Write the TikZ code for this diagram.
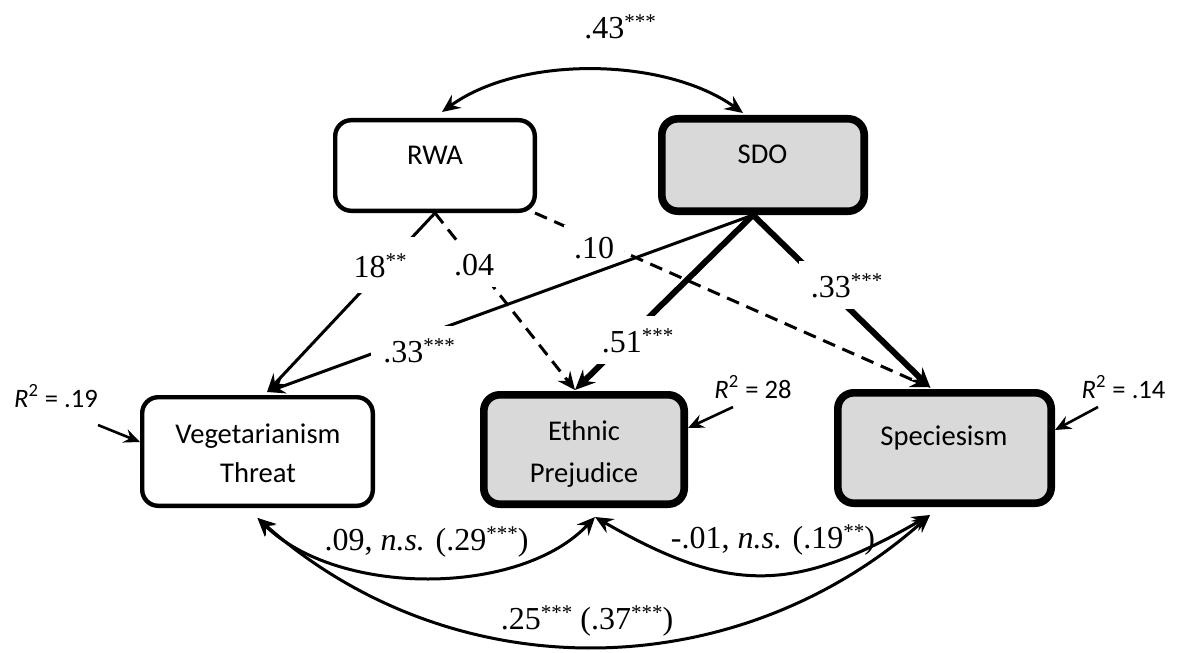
\documentclass[tikz,border=0pt]{standalone}
\usepackage{fontspec}
\setmainfont{Liberation Serif}
\newfontfamily\calibri{Carlito}
\usetikzlibrary{arrows.meta}
\definecolor{boxgray}{HTML}{D9D9D9}
\newcommand\sig[1]{\raisebox{5pt}{\fontsize{10.5pt}{11pt}\selectfont #1}}
\begin{document}
\begin{tikzpicture}[x=0.5pt,y=-0.5pt,
  thinbox/.style={draw, line width=2.2pt, rounded corners=8pt, fill=white, inner sep=0pt},
  thickbox/.style={draw, line width=3.8pt, rounded corners=8pt, fill=boxgray, inner sep=0pt},
  boxtext/.style={font=\calibri\fontsize{14.3pt}{19pt}\selectfont, inner sep=0pt, anchor=base},
  thinline/.style={line width=1.5pt, -{Stealth[length=9pt,width=8pt,inset=3.2pt]}},
  thickline/.style={line width=3pt, -{Stealth[length=10pt,width=9pt,inset=3.5pt]}},
  dashline/.style={line width=1.5pt, dash pattern=on 6.5pt off 4pt, -{Stealth[length=9pt,width=8pt,inset=3.2pt]}},
  corr/.style={line width=1.5pt, {Stealth[length=9pt,width=8pt,inset=3.2pt]}-{Stealth[length=9pt,width=8pt,inset=3.2pt]}},
  resid/.style={line width=1.3pt, -{Stealth[length=8pt,width=7pt,inset=2.8pt]}},
  coef/.style={font=\fontsize{16pt}{19pt}\selectfont, fill=white, inner sep=6pt, anchor=base},
  coefb/.style={font=\fontsize{16pt}{19pt}\selectfont, inner sep=0pt, anchor=base},
  rsq/.style={font=\calibri\fontsize{13.3pt}{15pt}\selectfont, inner sep=0pt, anchor=base}]
\useasboundingbox (0,0) rectangle (1181,652);

% boxes
\node[thinbox, minimum width=99.8pt, minimum height=45.3pt] (rwa) at (435,165.5) {};
\node[thickbox, minimum width=101.2pt, minimum height=46.2pt] (sdo) at (763,165) {};
\node[thinbox, minimum width=115.3pt, minimum height=54.3pt] (veg) at (257.5,451.5) {};
\node[thickbox, minimum width=100.2pt, minimum height=54.7pt] (eth) at (584,449.5) {};
\node[thickbox, minimum width=106.7pt, minimum height=55.2pt] (spe) at (944.5,448) {};

\node[boxtext] (rwat) at (435,165) {RWA};
\node[boxtext] (sdot) at (762.5,163) {SDO};
\node[boxtext] (vegt1) at (258,443) {Vegetarianism};
\node[boxtext] (vegt2) at (258,482) {Threat};
\node[boxtext] (etht1) at (584,440) {Ethnic};
\node[boxtext] (etht2) at (584,482) {Prejudice};
\node[boxtext] (spet) at (944,445) {Speciesism};

% RWA paths and their labels
\draw[thinline] (rwa.south) -- ([xshift=4.75pt,yshift=1.5pt]veg.north);
\draw[dashline] (rwa.south) -- ([xshift=-4.5pt,yshift=0.5pt]eth.north);
\draw[dashline] ([xshift=-1pt]rwa.south east) -- ([xshift=-8pt,yshift=1pt]spe.north);
\node[coef, inner ysep=8pt] (c18) at (380,277) {18\sig{**}};
\node[coef] (c04) at (474,275) {.04};
\node[coef, inner xsep=5pt] (c10) at (594,258) {.10\hspace{16pt}};

% SDO paths and their labels
\draw[thinline] ([xshift=-5pt]sdo.south) -- ([xshift=4.75pt,yshift=1.5pt]veg.north);
\draw[thickline] ([xshift=-5pt]sdo.south) -- ([xshift=-4.5pt,yshift=0.5pt]eth.north);
\draw[thickline] ([xshift=-5pt]sdo.south) -- ([xshift=-7pt,yshift=0.5pt]spe.north);
\node[coef] (c33a) at (419,362) {.33\sig{***}};
\node[coef] (c51) at (637.5,352) {.51\sig{***}};
\node[coef] (c33b) at (846.5,297) {.33\sig{***}};

% correlations
\draw[corr] ([xshift=3.5pt,yshift=3pt]rwa.north) .. controls +(78,-57) and +(-78,-56) .. ([xshift=-10pt,yshift=1pt]sdo.north);
\draw[corr] ([yshift=-5pt]veg.south) .. controls +(80,79) and +(-75,80) .. ([xshift=5.5pt,yshift=-4.5pt]eth.south);
\draw[corr] ([xshift=5.5pt,yshift=-4.5pt]eth.south) .. controls +(135,78) and +(-135,78) .. ([xshift=-7.25pt,yshift=-4pt]spe.south);
\draw[corr] ([yshift=-5pt]veg.south) .. controls +(195,173) and +(-195,173) .. ([xshift=-7.25pt,yshift=-4pt]spe.south);

% residual arrows
\coordinate (r1) at (98,425);
\coordinate (r2) at (733,407);
\coordinate (r3) at (1098,407);
\draw[resid] (r1) -- ([yshift=4.75pt]veg.west);
\draw[resid] (r2) -- ([yshift=10.75pt]eth.east);
\draw[resid] (r3) -- ([yshift=9pt]spe.east);
\node[rsq] (rsq1) at (56,407) {\textit{R}\textsuperscript{2} = .19};
\node[rsq] (rsq2) at (753,398) {\textit{R}\textsuperscript{2} = 28};
\node[rsq] (rsq3) at (1123.5,398) {\textit{R}\textsuperscript{2} = .14};

% correlation labels
\node[coefb] (c43) at (620,39) {.43\sig{***}};
\node[coefb] (c09) at (426.5,550) {.09, \textit{n.s.} (.29\sig{***})};
\node[coefb] (c01) at (773,548) {-.01, \textit{n.s.} (.19\sig{**})};
\node[coefb] (c25) at (587,629) {.25\sig{***} (.37\sig{***})};
\end{tikzpicture}
\end{document}
